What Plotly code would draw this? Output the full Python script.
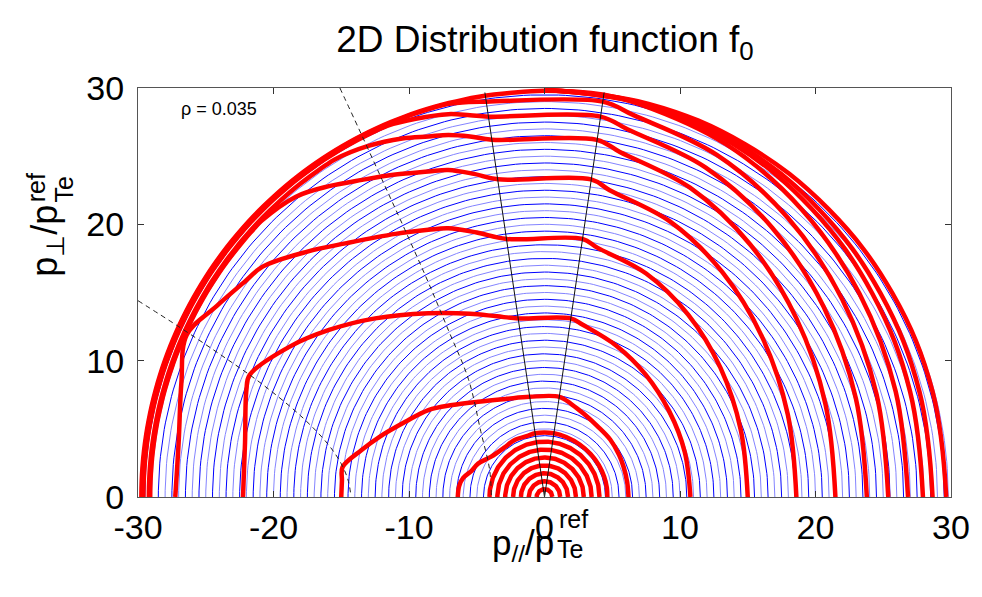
import numpy as np
import plotly.graph_objects as go

# ---------------- data ----------------
TITLE = "2D Distribution function f<sub>0</sub>"
RHO_LABEL = "ρ = 0.035"
X_TICKS = [-30, -20, -10, 0, 10, 20, 30]
X_TICKTEXT = ["-30", "-20", "-10", "0", "10", "20", "30"]
Y_TICKS = [0, 10, 20, 30]
Y_TICKTEXT = ["0", "10", "20", "30"]

# blue iso-|p| contours (radius)
BLUE_RADII = [4.5, 5.0, 5.5, 6.0, 6.5, 7.0, 7.5, 8.0, 8.5, 9.0, 9.5, 10.0,
              10.5, 11.0, 11.5, 12.0, 12.5, 13.0, 13.5, 14.0, 14.5, 15.0,
              15.5, 16.0, 16.5, 17.0, 17.5, 18.0, 18.5, 19.0, 19.5, 20.0,
              20.5, 21.0, 21.5, 22.0, 22.5, 23.0, 23.5, 24.0, 24.5, 25.0,
              25.5, 26.0, 26.5, 27.0, 27.5, 28.0, 28.5, 29.0, 29.5, 29.8]

# red core rings (radius)
CORE_RADII = [0.58, 1.16, 1.74, 2.32, 2.9, 3.48, 4.06]

# red f0 contours: vertices (p_par, p_perp)
C05_X = [-6.4, -6.3, -6.0, -5.4, -4.9, -3.93, -3.0, -2.2, -1.2, -0.69, 0.69, 1.6, 2.6, 3.4, 4.0, 4.4, 4.6, 4.64]
C05_Y = [0.0, 0.8, 1.4, 1.9, 2.45, 2.96, 3.6, 4.18, 4.5, 4.67, 4.67, 4.4, 3.85, 3.15, 2.35, 1.5, 0.7, 0.0]

C07_X = [-15.0, -14.95, -14.9, -13.5, -12.2, -10.3, -8.57, -6.8, -4.9, -2.8, -1.09, 1.09, 2.0, 2.9, 3.9, 4.86, 5.5, 5.84, 6.1, 6.2]
C07_Y = [0.0, 1.2, 2.2, 3.45, 4.4, 5.5, 6.38, 6.75, 6.99, 7.2, 7.35, 7.35, 6.8, 6.1, 5.2, 4.2, 3.1, 2.2, 1.1, 0.0]

C13_X = [-22.25, -22.1, -22.0, -21.76, -18.8, -15.9, -12.5, -8.57, -5.5, -3.5, -1.93, 1.93, 2.79, 5.3, 7.45, 9.2, 10.35, 10.77]
C13_Y = [0.0, 4.0, 7.85, 8.95, 11.03, 12.25, 13.1, 13.48, 13.45, 13.25, 13.1, 13.1, 12.65, 11.1, 9.0, 6.3, 3.3, 0.0]

C19_X = [-27.25, -27.0, -26.8, -26.4, -24.2, -22.0, -20.8, -17.5, -14.7, -11.0, -8.57, -7.1, -5.0, -2.8, 2.8, 3.89, 7.5, 10.6, 12.99, 14.49, 15.0]
C19_Y = [0.0, 4.0, 8.35, 11.9, 14.0, 15.9, 16.9, 18.0, 18.6, 19.3, 19.6, 19.71, 19.4, 18.93, 18.93, 18.29, 16.39, 13.38, 9.47, 4.9, 0.0]

C23_X = [-18.34, -15.9, -13.46, -11.0, -8.57, -7.1, -5.2, -3.44, 3.44, 4.81, 9.3, 13.14, 16.1, 17.96, 18.59]
C23_Y = [22.03, 22.8, 23.26, 23.65, 23.87, 23.99, 23.7, 23.3, 23.3, 22.5, 20.18, 16.47, 11.65, 6.03, 0.0]

C26_X = [-13.0, -10.5, -8.57, -7.1, -5.5, -3.87, 3.87, 5.56, 10.74, 15.18, 18.59, 20.74, 21.47]
C26_Y = [25.75, 26.3, 26.45, 26.56, 26.45, 26.2, 26.2, 25.31, 22.69, 18.52, 13.1, 6.79, 0.0]

C28_X = [-9.5, -7.1, -5.5, -4.12, 4.12, 6.16, 11.9, 16.82, 20.6, 22.98, 23.79]
C28_Y = [27.75, 28.08, 28.0, 27.9, 27.9, 26.95, 24.16, 19.73, 13.95, 7.23, 0.0]

C29_X = [-5.6, -4.28, 4.28, 6.57, 12.69, 17.94, 21.97, 24.51, 25.37]
C29_Y = [28.98, 29.0, 29.0, 28.01, 25.11, 20.5, 14.5, 7.51, 0.0]

C30_X = [0.0, 4.4, 6.95, 13.42, 18.97, 23.24, 25.92, 26.83]
C30_Y = [29.8, 29.5, 28.84, 25.86, 21.11, 14.93, 7.73, 0.0]

# part of a contour that runs along the outer edge: (radius, angle in deg where it leaves the edge)
EDGE_ARCS = {"C23": (29.1, 136), "C26": (29.2, 122), "C28": (29.6, 113),
             "C29": (29.7, 104), "C30": (29.75, 95)}

# right-hand outer contours that merge at the top
R1_X = [0.0, 7.23, 13.97, 19.75, 24.19, 26.98, 27.93]
R2_X = [0.0, 7.42, 14.32, 20.25, 24.8, 27.67, 28.64]
R3_X = [0.0, 7.68, 14.83, 20.96, 25.68, 28.64, 29.65]
R_Y = [29.86, 28.84, 25.86, 21.11, 14.93, 7.73, 0.0]

# dashed separatrix curves
DASH1_X = [-15.1, -13.7, -12.0, -10.3, -8.6, -7.1, -5.6, -4.7, -4.05, -3.92]
DASH1_Y = [30.0, 27.0, 23.3, 19.6, 15.8, 12.25, 8.6, 4.8, 2.0, 0.0]
DASH2_X = [-30.0, -27.0, -24.0, -21.0, -18.0, -16.0, -15.0, -14.5, -14.3]
DASH2_Y = [14.4, 12.5, 10.5, 8.4, 5.96, 3.9, 2.44, 1.25, 0.2]

# thin solid cone lines
CONE_X = [-4.4, 0.0, 4.4]
CONE_Y = [29.67, 0.0, 29.67]


# ---------------- helpers ----------------
def semicircle(r, n=181):
    t = np.linspace(0, np.pi, n)
    return list(r * np.cos(t)), list(r * np.sin(t))


def edge_arc(r, a_deg, n=40):
    t = np.radians(np.linspace(180, a_deg, n))
    return list(r * np.cos(t)), list(r * np.sin(t))


fig = go.Figure()

# blue circles, alternating shades
for k, shade in enumerate(["#0000ff", "#8484ff"]):
    xs, ys = [], []
    for r in BLUE_RADII[k::2]:
        cx, cy = semicircle(r)
        xs += cx + [None]
        ys += cy + [None]
    fig.add_trace(go.Scatter(x=xs, y=ys, mode="lines", line=dict(color=shade, width=1),
                             hoverinfo="skip", showlegend=False))

RED = "#ff0000"
RW = 4.5

# core rings
xs, ys = [], []
for r in CORE_RADII:
    cx, cy = semicircle(r)
    xs += cx + [None]
    ys += cy + [None]
fig.add_trace(go.Scatter(x=xs, y=ys, mode="lines", line=dict(color=RED, width=RW),
                         hoverinfo="skip", showlegend=False))

contours = [("C05", C05_X, C05_Y), ("C07", C07_X, C07_Y), ("C13", C13_X, C13_Y),
            ("C19", C19_X, C19_Y), ("C23", C23_X, C23_Y), ("C26", C26_X, C26_Y),
            ("C28", C28_X, C28_Y), ("C29", C29_X, C29_Y), ("C30", C30_X, C30_Y)]
for name, cx, cy in contours:
    px, py = list(cx), list(cy)
    if name in EDGE_ARCS:
        r, a = EDGE_ARCS[name]
        ax_, ay_ = edge_arc(r, a)
        px = ax_ + px
        py = ay_ + py
    fig.add_trace(go.Scatter(x=px, y=py, mode="lines",
                             line=dict(color=RED, width=RW, shape="spline", smoothing=1.0),
                             hoverinfo="skip", showlegend=False))

for rx in (R1_X, R2_X, R3_X):
    fig.add_trace(go.Scatter(x=rx, y=R_Y, mode="lines",
                             line=dict(color=RED, width=RW, shape="spline", smoothing=1.1),
                             hoverinfo="skip", showlegend=False))

# dashed and solid black lines
for dx, dy in ((DASH1_X, DASH1_Y), (DASH2_X, DASH2_Y)):
    fig.add_trace(go.Scatter(x=dx, y=dy, mode="lines",
                             line=dict(color="#222222", width=1, dash="5px,4px", shape="spline"),
                             hoverinfo="skip", showlegend=False))
fig.add_trace(go.Scatter(x=CONE_X, y=CONE_Y, mode="lines", line=dict(color="#111111", width=1),
                         hoverinfo="skip", showlegend=False))

FONT = "Liberation Sans, Arial, sans-serif"
axis_common = dict(showgrid=False, zeroline=False, showline=True, linecolor="#555555",
                   linewidth=1, mirror="ticks", ticks="inside", ticklen=6, tickcolor="#333333",
                   tickfont=dict(family=FONT, size=34, color="black"))

W, H = 982, 597
L, R, T, B = 138, 25, 88, 100
fig.update_layout(
    width=W, height=H,
    margin=dict(l=L, r=R, t=T, b=B),
    paper_bgcolor="white", plot_bgcolor="white",
    title=dict(text=TITLE, x=545 / W, xanchor="center", xref="container",
               y=1 - 39 / H, yanchor="middle", yref="container",
               font=dict(family=FONT, size=37, color="black")),
    xaxis=dict(range=[-30, 30], tickvals=X_TICKS, ticktext=X_TICKTEXT, **axis_common),
    yaxis=dict(range=[0, 30], tickvals=Y_TICKS, ticktext=Y_TICKTEXT,
               ticklabelstandoff=6, **axis_common),
)


def px2paper_x(p):
    return (p - L) / (W - L - R)


def px2paper_y(p):
    return (H - B - p) / (H - T - B)


ann = []
ann.append(dict(text=RHO_LABEL, x=-27.0, y=28.45, xref="x", yref="y", xanchor="left",
                yanchor="middle", showarrow=False, font=dict(family=FONT, size=18, color="black")))
# x-axis title (stacked ref / Te)
ann.append(dict(text="p<sub>//</sub>/p", x=px2paper_x(559), y=px2paper_y(545), xref="paper", yref="paper",
                xanchor="right", yanchor="middle", showarrow=False,
                font=dict(family=FONT, size=35, color="black")))
ann.append(dict(text="ref", x=px2paper_x(560), y=px2paper_y(519), xref="paper", yref="paper",
                xanchor="left", yanchor="middle", showarrow=False,
                font=dict(family=FONT, size=25, color="black")))
ann.append(dict(text="Te", x=px2paper_x(558), y=px2paper_y(549), xref="paper", yref="paper",
                xanchor="left", yanchor="middle", showarrow=False,
                font=dict(family=FONT, size=25, color="black")))
# y-axis title (stacked ref / Te)
YJ = 203
ann.append(dict(text="p<sub>⊥</sub>/p", x=px2paper_x(46), y=px2paper_y(YJ), xref="paper", yref="paper",
                xanchor="center", yanchor="top", textangle=-90, showarrow=False,
                font=dict(family=FONT, size=36, color="black")))
ann.append(dict(text="ref", x=px2paper_x(35), y=px2paper_y(YJ + 1), xref="paper", yref="paper",
                xanchor="center", yanchor="bottom", textangle=-90, showarrow=False,
                font=dict(family=FONT, size=25, color="black")))
ann.append(dict(text="Te", x=px2paper_x(63), y=px2paper_y(YJ + 2), xref="paper", yref="paper",
                xanchor="center", yanchor="bottom", textangle=-90, showarrow=False,
                font=dict(family=FONT, size=25, color="black")))
fig.update_layout(annotations=ann)

fig.write_html("out.html", config={"displayModeBar": False},
               post_script="document.body.style.margin='0px';")
